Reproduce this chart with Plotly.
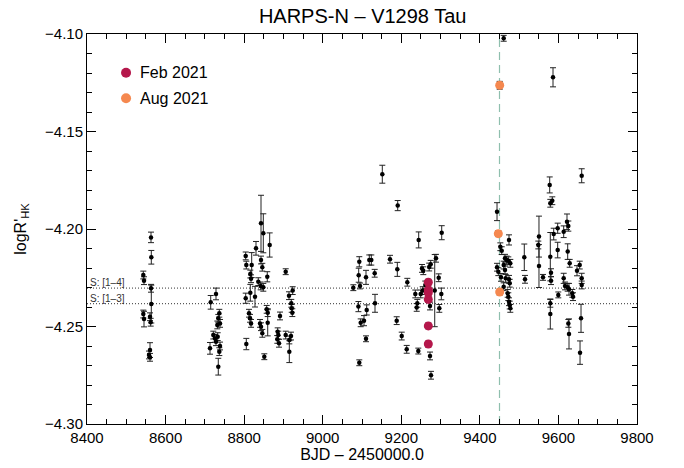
import plotly.graph_objects as go

# ---- data (BJD - 2450000, log R'HK, error) ----
bjd = [8562.9, 8563.7, 8543.3, 8545.1, 8562.9, 8563.7, 8543.3, 8545.1, 8560.4, 8562.1, 8560.4, 8557.8, 8560.4,
       8728.4, 8714.9, 8736.8, 8734.2, 8738.6, 8731.7, 8721.5, 8725.8, 8732.7, 8728.4, 8713.1, 8738.6, 8736.8, 8734.2,
       8842.9, 8848.8, 8865.0, 8830.2, 8804.0, 8805.5, 8819.2, 8815.7, 8817.5, 8842.9, 8846.2, 8836.0, 8842.1, 8848.8,
       8858.9, 8905.8, 8815.7, 8804.0, 8827.6, 8923.6, 8914.2, 8920.0, 8921.1, 8922.6, 8857.4, 8860.0, 8812.4, 8814.9,
       8817.5, 8860.0, 8891.3, 8840.4, 8842.9, 8846.2, 8885.4, 8887.0, 8884.4, 8888.7, 8905.8, 8915.0, 8919.3, 8915.0,
       8805.5, 8851.3,
       9151.7, 9190.9, 9302.9, 9244.3, 9093.1, 9118.6, 9123.7, 9171.3, 9091.6, 9110.2, 9132.3, 9189.9, 9077.9, 9094.9,
       9215.3, 9252.7, 9256.0, 9274.9, 9288.4, 9295.2, 9301.9, 9296.8, 9285.1, 9235.7, 9240.8, 9239.3, 9249.4, 9254.5,
       9261.1, 9271.0, 9273.1, 9273.1, 9275.6, 9090.9, 9112.0, 9096.7, 9105.1, 9133.1, 9188.3, 9201.1, 9213.8, 9110.2,
       9093.1, 9243.3,
       9460.7, 9586.2, 9659.2, 9577.8, 9579.3, 9584.4, 9443.7, 9474.2, 9452.1, 9455.6, 9464.0, 9468.3, 9472.4, 9477.5,
       9460.7, 9443.7, 9447.0, 9464.0, 9465.8, 9474.2, 9476.0, 9470.9, 9472.4, 9474.2, 9476.0, 9477.5, 9453.9, 9460.7,
       9513.1, 9514.9, 9550.5, 9548.8, 9550.5, 9560.7, 9579.3, 9581.1, 9581.1, 9579.3, 9579.3, 9588.0, 9598.1, 9598.1,
       9613.4, 9621.8, 9625.2, 9623.6, 9628.7, 9613.4, 9616.8, 9623.6, 9626.9, 9635.3, 9637.1, 9599.7, 9625.2, 9626.9,
       9647.3, 9654.2, 9659.2, 9659.2, 9657.5, 9655.0]
logr = [-4.2043, -4.2145, -4.2236, -4.2265, -4.2304, -4.2385, -4.2436, -4.2462, -4.2450, -4.2478, -4.2621, -4.2646, -4.2658,
        -4.2333, -4.2376, -4.2432, -4.2458, -4.2484, -4.2492, -4.2544, -4.2561, -4.2552, -4.2578, -4.2612, -4.2600, -4.2629, -4.2706,
        -4.1971, -4.2022, -4.2082, -4.2099, -4.2138, -4.2185, -4.2185, -4.2231, -4.2255, -4.2159, -4.2196, -4.2270, -4.2292, -4.2299,
        -4.2245, -4.2219, -4.2327, -4.2355, -4.2347, -4.2316, -4.2342, -4.2381, -4.2407, -4.2429, -4.2412, -4.2429, -4.2432, -4.2458,
        -4.2484, -4.2481, -4.2446, -4.2484, -4.2501, -4.2535, -4.2527, -4.2544, -4.2566, -4.2586, -4.2544, -4.2569, -4.2549, -4.2629,
        -4.2590, -4.2655,
        -4.1719, -4.1880, -4.2019, -4.2056, -4.2168, -4.2159, -4.2159, -4.2155, -4.2237, -4.2248, -4.2227, -4.2207, -4.2301, -4.2292,
        -4.2273, -4.2202, -4.2214, -4.2181, -4.2150, -4.2250, -4.2333, -4.2407, -4.2316, -4.2333, -4.2381, -4.2402, -4.2333, -4.2316,
        -4.2287, -4.2195, -4.2395, -4.2651, -4.2750, -4.2398, -4.2415, -4.2481, -4.2470, -4.2381, -4.2470, -4.2549, -4.2617, -4.2563,
        -4.2686, -4.2626,
        -4.1022, -4.1222, -4.1727, -4.1774, -4.1868, -4.1855, -4.1911, -4.2056, -4.2091, -4.2111, -4.2150, -4.2159, -4.2163, -4.2176,
        -4.2185, -4.2196, -4.2219, -4.2210, -4.2253, -4.2258, -4.2278, -4.2330, -4.2347, -4.2373, -4.2390, -4.2407, -4.2248, -4.2296,
        -4.2145, -4.2258, -4.2039, -4.2082, -4.2190, -4.2248, -4.2142, -4.2224, -4.2265, -4.2381, -4.2436, -4.2026, -4.1996, -4.2108,
        -4.2014, -4.1963, -4.1985, -4.2116, -4.2176, -4.2253, -4.2292, -4.2299, -4.2309, -4.2330, -4.2347, -4.2338, -4.2484, -4.2538,
        -4.2214, -4.2185, -4.2253, -4.2287, -4.2458, -4.2634]
err = [0.0027, 0.0035, 0.0020, 0.0020, 0.0020, 0.0097, 0.0020, 0.0040, 0.0020, 0.0020, 0.0038, 0.0020, 0.0020,
       0.0030, 0.0035, 0.0020, 0.0020, 0.0020, 0.0020, 0.0020, 0.0020, 0.0020, 0.0020, 0.0030, 0.0020, 0.0020, 0.0043,
       0.0144, 0.0100, 0.0062, 0.0035, 0.0020, 0.0020, 0.0064, 0.0020, 0.0020, 0.0020, 0.0020, 0.0020, 0.0020, 0.0020,
       0.0026, 0.0015, 0.0043, 0.0026, 0.0053, 0.0020, 0.0020, 0.0020, 0.0020, 0.0020, 0.0020, 0.0020, 0.0020, 0.0020,
       0.0020, 0.0067, 0.0020, 0.0020, 0.0020, 0.0020, 0.0020, 0.0020, 0.0020, 0.0020, 0.0020, 0.0020, 0.0020, 0.0056,
       0.0029, 0.0015,
       0.0046, 0.0026, 0.0036, 0.0041, 0.0026, 0.0026, 0.0026, 0.0020, 0.0036, 0.0036, 0.0020, 0.0036, 0.0015, 0.0015,
       0.0020, 0.0020, 0.0020, 0.0020, 0.0020, 0.0020, 0.0030, 0.0020, 0.0185, 0.0020, 0.0020, 0.0020, 0.0020, 0.0020,
       0.0020, 0.0020, 0.0020, 0.0020, 0.0020, 0.0026, 0.0026, 0.0020, 0.0026, 0.0046, 0.0020, 0.0020, 0.0020, 0.0015,
       0.0015, 0.0015,
       0.0015, 0.0049, 0.0036, 0.0041, 0.0020, 0.0020, 0.0046, 0.0026, 0.0020, 0.0020, 0.0020, 0.0020, 0.0020, 0.0020,
       0.0020, 0.0020, 0.0020, 0.0020, 0.0020, 0.0020, 0.0020, 0.0020, 0.0020, 0.0020, 0.0020, 0.0020, 0.0020, 0.0020,
       0.0068, 0.0020, 0.0105, 0.0020, 0.0110, 0.0015, 0.0124, 0.0020, 0.0020, 0.0020, 0.0077, 0.0030, 0.0026, 0.0040,
       0.0030, 0.0040, 0.0026, 0.0040, 0.0020, 0.0026, 0.0020, 0.0020, 0.0030, 0.0020, 0.0020, 0.0015, 0.0020, 0.0077,
       0.0026, 0.0020, 0.0026, 0.0020, 0.0072, 0.0060]

feb_bjd = [9268.8, 9268.8, 9268.8, 9268.8, 9268.8, 9268.8]
feb_logr = [-4.2273, -4.2313, -4.2327, -4.2361, -4.2497, -4.2590]
feb_err = [0.0015, 0.0015, 0.0015, 0.0015, 0.0015, 0.0015]

aug_bjd = [9450.5, 9447.0, 9450.5]
aug_logr = [-4.1263, -4.2024, -4.2323]
aug_err = [0.0020, 0.0015, 0.0015]

s_levels = [-4.2303, -4.2383]
s_labels = ["S: [1\u20134]", "S: [1\u20133]"]
event_bjd = 9450.0

legend_names = ["Feb 2021", "Aug 2021"]
feb_color = "#b5174b"
aug_color = "#f5884f"

FONT = "Liberation Sans, Arial, Helvetica, sans-serif"

fig = go.Figure()

eb = dict(type="data", thickness=1, width=3, color="#222")
fig.add_trace(go.Scatter(x=bjd, y=logr, mode="markers", error_y=dict(array=err, **eb),
                         marker=dict(color="black", size=4.5), showlegend=False))
fig.add_trace(go.Scatter(x=feb_bjd, y=feb_logr, mode="markers", error_y=dict(array=feb_err, **eb),
                         marker=dict(color=feb_color, size=9), showlegend=False))
fig.add_trace(go.Scatter(x=aug_bjd, y=aug_logr, mode="markers", error_y=dict(array=aug_err, **eb),
                         marker=dict(color=aug_color, size=9), showlegend=False))

# horizontal dotted reference lines
for lvl, lab in zip(s_levels, s_labels):
    fig.add_shape(type="line", xref="paper", yref="y", x0=0, x1=1, y0=lvl, y1=lvl,
                  line=dict(color="#333", width=1, dash="1px,2px"), layer="below")
    fig.add_annotation(xref="paper", yref="y", x=0.004, y=lvl, text=lab, showarrow=False,
                       xanchor="left", yanchor="bottom", font=dict(family=FONT, size=10, color="#333"),
                       borderpad=0, yshift=-1)

# vertical dashed line
fig.add_shape(type="line", xref="x", yref="paper", x0=event_bjd, x1=event_bjd, y0=0, y1=1,
              line=dict(color="#8fbfae", width=1.2, dash="8px,5px"), layer="below")

# manual legend
for name, col, yy in zip(legend_names, [feb_color, aug_color], [0.9008, 0.8351]):
    fig.add_shape(type="circle", xref="paper", yref="paper", xsizemode="pixel", ysizemode="pixel",
                  xanchor=0.071, yanchor=yy, x0=-5, x1=5, y0=-5, y1=5,
                  fillcolor=col, line=dict(width=0))
    fig.add_annotation(xref="paper", yref="paper", x=0.0927, y=yy, text=name, showarrow=False,
                       xanchor="left", yanchor="middle", font=dict(family=FONT, size=16, color="black"))

axis_common = dict(showgrid=False, zeroline=False, showline=True, linecolor="black", linewidth=1,
                   mirror="ticks", ticks="inside", ticklen=9, tickcolor="black", tickwidth=1,
                   automargin=False,
                   tickfont=dict(family=FONT, size=15, color="black"))

fig.update_xaxes(range=[8400, 9800], dtick=200, tick0=8400, tickformat="d",
                 minor=dict(dtick=50, ticks="inside", ticklen=5, tickcolor="black"),
                 title=dict(text="BJD \u2013 2450000.0", font=dict(family=FONT, size=16, color="black"), standoff=1),
                 **axis_common)
fig.update_yaxes(range=[-4.30, -4.10], dtick=0.05, tick0=-4.30, tickformat=".2f",
                 minor=dict(dtick=0.01, ticks="inside", ticklen=5, tickcolor="black"),
                 title=dict(text="logR'<sub>HK</sub>", font=dict(family=FONT, size=16, color="black"), standoff=14),
                 **axis_common)

fig.update_layout(
    width=684, height=468,
    margin=dict(l=87, r=47, t=34, b=44),
    paper_bgcolor="white", plot_bgcolor="white",
    title=dict(text="HARPS-N \u2013 V1298 Tau", x=0.5302, xanchor="center", y=0.966, yanchor="middle",
               font=dict(family=FONT, size=20, color="black")),
    font=dict(family=FONT, color="black"),
    showlegend=False,
)

fig.write_html("out.html", config={"displayModeBar": False},
               post_script="document.body.style.margin='0px';")
